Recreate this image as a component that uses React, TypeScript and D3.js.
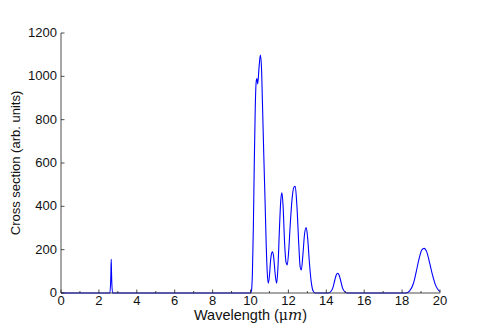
import React from 'react';
import * as d3 from 'd3';

// wavelength (um) / cross section pairs
const wavelength = [
  0, 2.58, 2.63, 2.65, 2.67, 2.72,
  10.0, 10.05, 10.1, 10.15, 10.2, 10.25, 10.3, 10.34, 10.38, 10.45, 10.52, 10.58, 10.63, 10.7, 10.77, 10.83, 10.88, 10.94,
  11.0, 11.06, 11.12, 11.17, 11.23, 11.3, 11.38, 11.45, 11.52, 11.6, 11.66, 11.72, 11.8, 11.88, 11.94,
  12.02, 12.1, 12.2, 12.3, 12.36, 12.45, 12.55, 12.62, 12.68, 12.76, 12.85, 12.94, 13.02, 13.1, 13.2, 13.3, 13.4,
  14.1, 14.25, 14.35, 14.45, 14.52, 14.6, 14.68, 14.75, 14.85, 14.95, 15.1,
  18.2, 18.4, 18.6, 18.75, 18.9, 19.05, 19.16, 19.3, 19.45, 19.6, 19.75, 19.9, 20.0,
];
const crossSection = [
  0, 0, 80, 155, 80, 0,
  0, 10, 90, 300, 600, 850, 975, 990, 965, 1040, 1098, 1040, 880, 640, 420, 220, 100, 45,
  80, 150, 185, 190, 160, 90, 45, 120, 280, 430, 462, 400, 230, 140, 130,
  200, 320, 440, 490, 492, 400, 220, 120, 106, 170, 270, 302, 250, 150, 55, 10, 0,
  0, 8, 25, 60, 82, 91, 82, 60, 25, 8, 0,
  0, 10, 45, 100, 160, 200, 206, 190, 140, 85, 40, 15, 6,
];
const xTicks = [0, 2, 4, 6, 8, 10, 12, 14, 16, 18, 20];
const xMinorTicks = [1, 3, 5, 7, 9, 11, 13, 15, 17, 19];
const yTicks = [0, 200, 400, 600, 800, 1000, 1200];

export default function App() {
  const width = 491;
  const height = 327;
  const x = d3.scaleLinear().domain([0, 20]).range([61, 440]);
  const y = d3.scaleLinear().domain([0, 1200]).range([293, 33]);
  const pts: [number, number][] = wavelength.map((w, i) => [w, crossSection[i]]);
  const line = d3.line<[number, number]>()
    .x(d => x(d[0]))
    .y(d => y(d[1]))
    .curve(d3.curveMonotoneX);
  const font = '"Liberation Sans", Arial, sans-serif';
  const serif = '"DejaVu Serif", "Liberation Serif", serif';

  return (
    <svg width={width} height={height}
      style={{ position: 'fixed', left: 0, top: 0, background: '#fff' }}
      fontFamily={font} fontSize={13}>
      <path d={line(pts) || ''} fill="none" stroke="#0000ff" strokeWidth={1.1} />
      {/* axes */}
      <g stroke="#222" strokeWidth={0.8}>
        <line x1={x(0)} x2={x(20)} y1={y(0)} y2={y(0)} />
        <line x1={x(0)} x2={x(0)} y1={y(0)} y2={y(1200)} />
        {xTicks.map(t => <line key={'x' + t} x1={x(t)} x2={x(t)} y1={y(0)} y2={y(0) - 3.5} />)}
        {xMinorTicks.map(t => <line key={'m' + t} x1={x(t)} x2={x(t)} y1={y(0)} y2={y(0) - 2} />)}
        {yTicks.map(t => <line key={'y' + t} x1={x(0)} x2={x(0) + 3.5} y1={y(t)} y2={y(t)} />)}
      </g>
      {xTicks.map(t => (
        <text key={'xl' + t} x={x(t)} y={y(0) + 12} textAnchor="middle" fill="#111">{t}</text>
      ))}
      {yTicks.map(t => (
        <text key={'yl' + t} x={x(0) - 4} y={y(t) + 4} textAnchor="end" fill="#111">{t}</text>
      ))}
      <text x={(x(0) + x(20)) / 2} y={320} textAnchor="middle" fill="#111" fontSize={14.5}>
        Wavelength (<tspan fontFamily={serif} fontSize={14}>μ</tspan><tspan fontFamily={serif} fontStyle="italic" fontSize={15}>m</tspan>)
      </text>
      <text transform={`translate(20,${(y(0) + y(1200)) / 2}) rotate(-90)`} textAnchor="middle" fill="#111">
        Cross section (arb. units)
      </text>
    </svg>
  );
}
